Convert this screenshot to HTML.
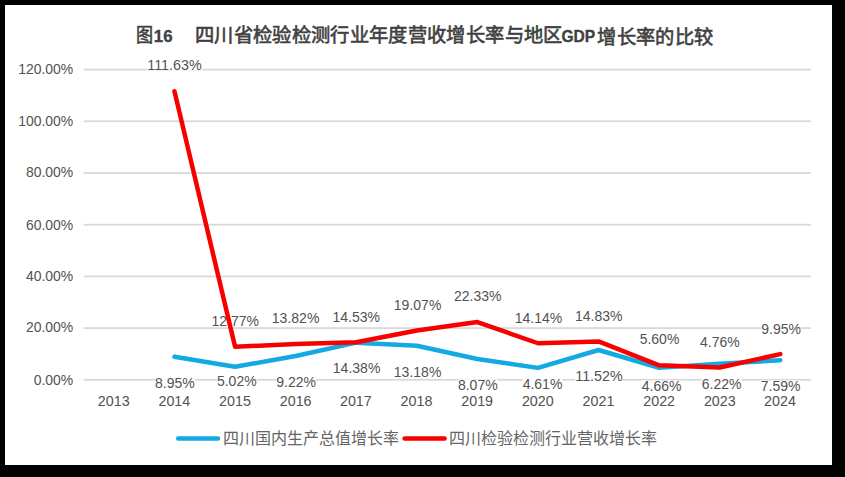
<!DOCTYPE html>
<html lang="zh-CN"><head><meta charset="utf-8">
<style>
html,body{margin:0;padding:0;background:#000;width:845px;height:477px;overflow:hidden}
svg{display:block}
.t{font-family:"Liberation Sans",sans-serif;font-size:14.3px;fill:#525252}
.lg{font-family:"Liberation Sans",sans-serif;font-size:16px;fill:#656565}
.ti{font-family:"Liberation Sans",sans-serif;font-size:18.5px;fill:#404040}
.cj{font-size:19.3px;font-weight:400;letter-spacing:0.36px;stroke:#404040;stroke-width:0.6px}
.la{font-size:15.5px;font-weight:700;stroke:#404040;stroke-width:0.35px}
</style></head><body>
<svg width="845" height="477" viewBox="0 0 845 477">
<rect x="0" y="0" width="845" height="477" fill="#000"/>
<rect x="5" y="5" width="827" height="460" fill="#fff"/>
<rect x="83.6" y="378.90" width="727.4" height="1.8" fill="#d9d9d9"/>
<rect x="83.6" y="327.20" width="727.4" height="1.8" fill="#d9d9d9"/>
<rect x="83.6" y="275.50" width="727.4" height="1.8" fill="#d9d9d9"/>
<rect x="83.6" y="223.80" width="727.4" height="1.8" fill="#d9d9d9"/>
<rect x="83.6" y="172.10" width="727.4" height="1.8" fill="#d9d9d9"/>
<rect x="83.6" y="120.40" width="727.4" height="1.8" fill="#d9d9d9"/>
<rect x="83.6" y="68.70" width="727.4" height="1.8" fill="#d9d9d9"/>
<text id="y0" x="73.20" y="384.70" text-anchor="end" class="t" textLength="39.53" lengthAdjust="spacingAndGlyphs">0.00%</text>
<text id="y1" x="73.20" y="332.30" text-anchor="end" class="t" textLength="47.28" lengthAdjust="spacingAndGlyphs">20.00%</text>
<text id="y2" x="73.20" y="280.90" text-anchor="end" class="t" textLength="47.28" lengthAdjust="spacingAndGlyphs">40.00%</text>
<text id="y3" x="73.20" y="229.50" text-anchor="end" class="t" textLength="47.28" lengthAdjust="spacingAndGlyphs">60.00%</text>
<text id="y4" x="73.20" y="177.10" text-anchor="end" class="t" textLength="47.28" lengthAdjust="spacingAndGlyphs">80.00%</text>
<text id="y5" x="73.20" y="125.70" text-anchor="end" class="t" textLength="55.03" lengthAdjust="spacingAndGlyphs">100.00%</text>
<text id="y6" x="73.20" y="74.30" text-anchor="end" class="t" textLength="55.03" lengthAdjust="spacingAndGlyphs">120.00%</text>
<text id="x0" x="113.69" y="405.50" text-anchor="middle" class="t">2013</text>
<text id="x1" x="174.35" y="405.50" text-anchor="middle" class="t">2014</text>
<text id="x2" x="235.02" y="405.50" text-anchor="middle" class="t">2015</text>
<text id="x3" x="295.68" y="405.50" text-anchor="middle" class="t">2016</text>
<text id="x4" x="355.85" y="405.50" text-anchor="middle" class="t">2017</text>
<text id="x5" x="416.51" y="405.50" text-anchor="middle" class="t">2018</text>
<text id="x6" x="477.17" y="405.50" text-anchor="middle" class="t">2019</text>
<text id="x7" x="537.84" y="405.50" text-anchor="middle" class="t">2020</text>
<text id="x8" x="598.50" y="405.50" text-anchor="middle" class="t">2021</text>
<text id="x9" x="659.16" y="405.50" text-anchor="middle" class="t">2022</text>
<text id="x10" x="719.83" y="405.50" text-anchor="middle" class="t">2023</text>
<text id="x11" x="779.99" y="405.50" text-anchor="middle" class="t">2024</text>
<rect x="146.78" y="59.60" width="55.44" height="10.8" fill="#fff"/>
<text id="r1" x="174.50" y="70.00" text-anchor="middle" class="t">111.63%</text>
<rect x="211.55" y="315.65" width="47.49" height="10.8" fill="#fff"/>
<text id="r2" x="235.30" y="326.05" text-anchor="middle" class="t" textLength="47.52" lengthAdjust="spacingAndGlyphs">12.77%</text>
<rect x="271.85" y="312.10" width="47.49" height="10.8" fill="#fff"/>
<text id="r3" x="295.60" y="322.50" text-anchor="middle" class="t" textLength="47.52" lengthAdjust="spacingAndGlyphs">13.82%</text>
<rect x="332.55" y="311.40" width="47.49" height="10.8" fill="#fff"/>
<text id="r4" x="356.30" y="321.80" text-anchor="middle" class="t" textLength="47.52" lengthAdjust="spacingAndGlyphs">14.53%</text>
<rect x="393.85" y="299.55" width="47.49" height="10.8" fill="#fff"/>
<text id="r5" x="417.60" y="309.95" text-anchor="middle" class="t" textLength="47.52" lengthAdjust="spacingAndGlyphs">19.07%</text>
<rect x="453.95" y="290.90" width="47.49" height="10.8" fill="#fff"/>
<text id="r6" x="477.70" y="301.30" text-anchor="middle" class="t" textLength="47.52" lengthAdjust="spacingAndGlyphs">22.33%</text>
<rect x="514.75" y="312.60" width="47.49" height="10.8" fill="#fff"/>
<text id="r7" x="538.50" y="323.00" text-anchor="middle" class="t" textLength="47.52" lengthAdjust="spacingAndGlyphs">14.14%</text>
<rect x="574.95" y="310.90" width="47.49" height="10.8" fill="#fff"/>
<text id="r8" x="598.70" y="321.30" text-anchor="middle" class="t" textLength="47.52" lengthAdjust="spacingAndGlyphs">14.83%</text>
<rect x="639.73" y="333.80" width="39.54" height="10.8" fill="#fff"/>
<text id="r9" x="659.50" y="344.20" text-anchor="middle" class="t" textLength="39.73" lengthAdjust="spacingAndGlyphs">5.60%</text>
<rect x="700.13" y="336.25" width="39.54" height="10.8" fill="#fff"/>
<text id="r10" x="719.90" y="346.65" text-anchor="middle" class="t" textLength="39.73" lengthAdjust="spacingAndGlyphs">4.76%</text>
<rect x="761.33" y="323.85" width="39.54" height="10.8" fill="#fff"/>
<text id="r11" x="781.10" y="334.25" text-anchor="middle" class="t" textLength="39.73" lengthAdjust="spacingAndGlyphs">9.95%</text>
<rect x="155.13" y="377.40" width="39.54" height="10.8" fill="#fff"/>
<text id="b1" x="174.90" y="387.80" text-anchor="middle" class="t" textLength="39.73" lengthAdjust="spacingAndGlyphs">8.95%</text>
<rect x="217.03" y="376.00" width="39.54" height="10.8" fill="#fff"/>
<text id="b2" x="236.80" y="386.40" text-anchor="middle" class="t" textLength="39.73" lengthAdjust="spacingAndGlyphs">5.02%</text>
<rect x="276.33" y="376.30" width="39.54" height="10.8" fill="#fff"/>
<text id="b3" x="296.10" y="386.70" text-anchor="middle" class="t" textLength="39.73" lengthAdjust="spacingAndGlyphs">9.22%</text>
<rect x="332.85" y="362.60" width="47.49" height="10.8" fill="#fff"/>
<text id="b4" x="356.60" y="373.00" text-anchor="middle" class="t" textLength="47.52" lengthAdjust="spacingAndGlyphs">14.38%</text>
<rect x="393.85" y="366.80" width="47.49" height="10.8" fill="#fff"/>
<text id="b5" x="417.60" y="377.20" text-anchor="middle" class="t" textLength="47.52" lengthAdjust="spacingAndGlyphs">13.18%</text>
<rect x="458.03" y="379.40" width="39.54" height="10.8" fill="#fff"/>
<text id="b6" x="477.80" y="389.80" text-anchor="middle" class="t" textLength="39.73" lengthAdjust="spacingAndGlyphs">8.07%</text>
<rect x="522.73" y="378.60" width="39.54" height="10.8" fill="#fff"/>
<text id="b7" x="542.50" y="389.00" text-anchor="middle" class="t" textLength="39.73" lengthAdjust="spacingAndGlyphs">4.61%</text>
<rect x="575.25" y="370.70" width="47.49" height="10.8" fill="#fff"/>
<text id="b8" x="599.00" y="381.10" text-anchor="middle" class="t" textLength="47.52" lengthAdjust="spacingAndGlyphs">11.52%</text>
<rect x="641.93" y="380.55" width="39.54" height="10.8" fill="#fff"/>
<text id="b9" x="661.70" y="390.95" text-anchor="middle" class="t" textLength="39.73" lengthAdjust="spacingAndGlyphs">4.66%</text>
<rect x="701.93" y="378.65" width="39.54" height="10.8" fill="#fff"/>
<text id="b10" x="721.70" y="389.05" text-anchor="middle" class="t" textLength="39.73" lengthAdjust="spacingAndGlyphs">6.22%</text>
<rect x="760.93" y="380.50" width="39.54" height="10.8" fill="#fff"/>
<text id="b11" x="780.70" y="390.90" text-anchor="middle" class="t" textLength="39.73" lengthAdjust="spacingAndGlyphs">7.59%</text>
<polyline points="174.47,356.66 235.06,366.82 295.64,355.97 356.23,342.63 416.81,345.73 477.39,358.94 537.98,367.88 598.56,350.02 659.14,367.75 719.73,363.72 780.31,360.18" fill="none" stroke="#13A9E2" stroke-width="4.5" stroke-linejoin="round" stroke-linecap="round"/>
<polyline points="174.47,91.24 235.06,346.79 295.64,344.08 356.23,342.24 416.81,330.50 477.39,322.08 537.98,343.25 598.56,341.46 659.14,365.32 719.73,367.50 780.31,354.08" fill="none" stroke="#F80000" stroke-width="4.5" stroke-linejoin="round" stroke-linecap="round"/>
<line x1="178.2" y1="438.4" x2="218.0" y2="438.4" stroke="#13A9E2" stroke-width="4.5" stroke-linecap="round"/>
<line x1="404.6" y1="438.4" x2="444.6" y2="438.4" stroke="#F80000" stroke-width="4.5" stroke-linecap="round"/>
<text id="l1" x="222.80" y="443.75" class="lg">四川国内生产总值增长率</text>
<text id="l2" x="449.30" y="443.75" class="lg">四川检验检测行业营收增长率</text>
<text id="t0" x="135.60" y="41.90" class="ti cj" textLength="17.2" lengthAdjust="spacingAndGlyphs">图</text>
<text id="t1" x="153.80" y="41.75" class="ti la" style="font-size:16.8px">16</text>
<text id="t2" x="194.80" y="41.90" class="ti cj">四川省检验检测行业年度营收增长率与地区</text>
<text id="t3" x="561.40" y="41.75" class="ti la" style="font-size:16.5px" textLength="33.8" lengthAdjust="spacingAndGlyphs">GDP</text>
<text id="t4" x="597.40" y="43.60" class="ti cj">增长率的比较</text>
</svg>
</body></html>
